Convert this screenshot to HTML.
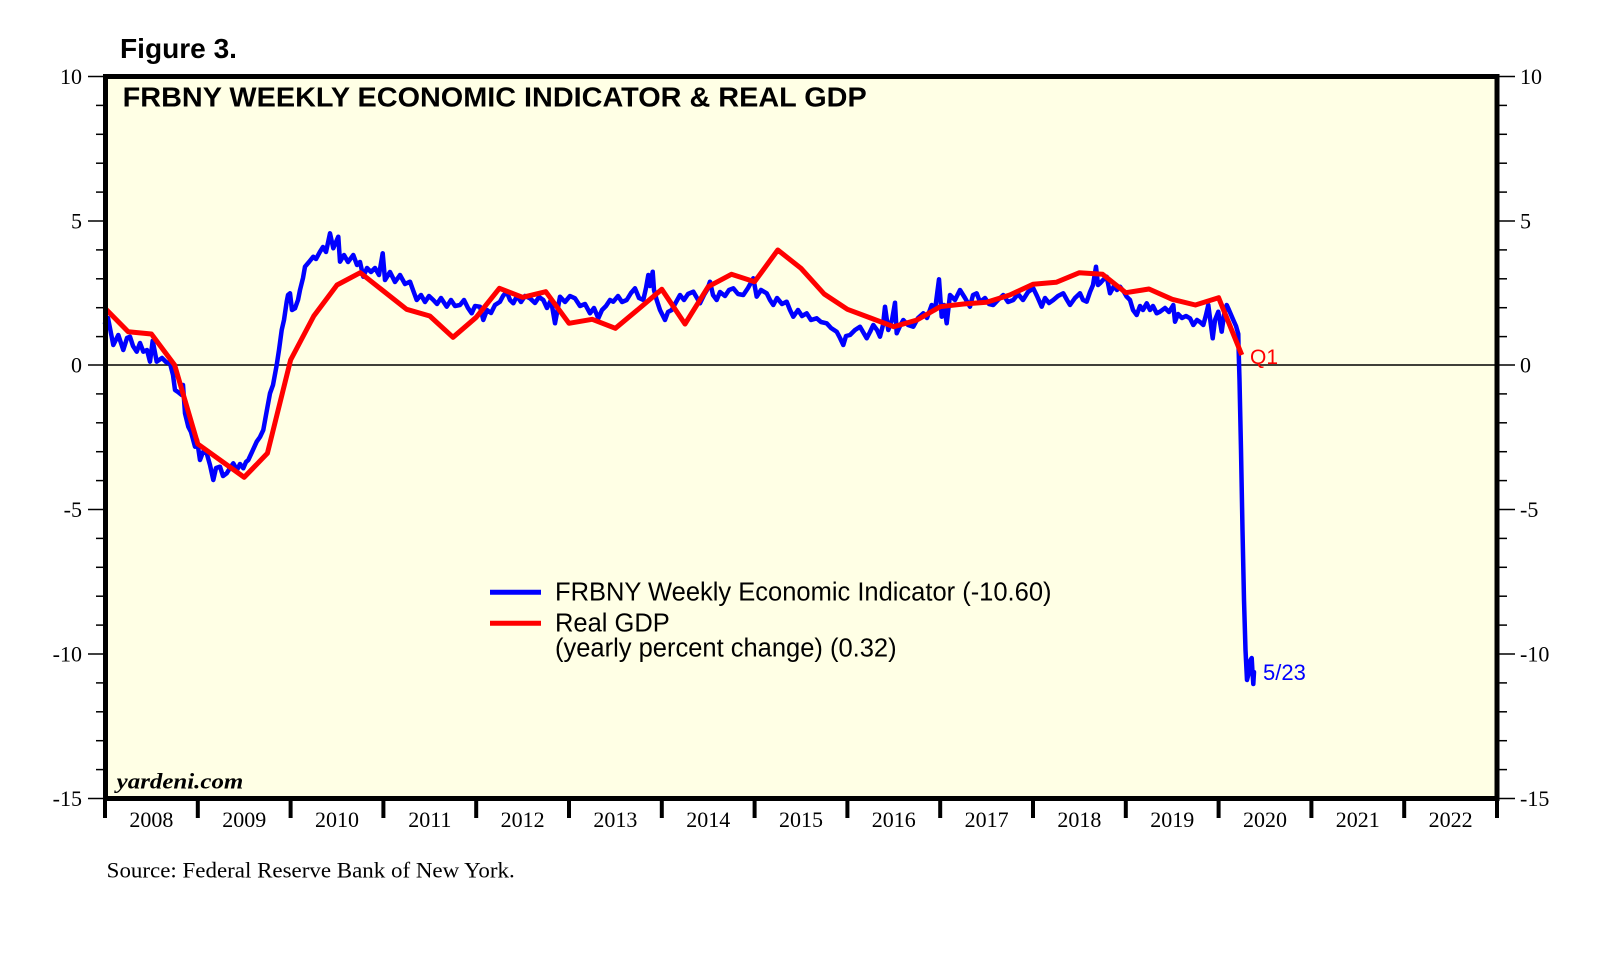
<!DOCTYPE html>
<html><head><meta charset="utf-8"><style>
html,body{margin:0;padding:0;background:#fff;}
svg{display:block;}
</style></head><body>
<svg width="1610" height="957" viewBox="0 0 1610 957" xmlns="http://www.w3.org/2000/svg">
<rect x="0" y="0" width="1610" height="957" fill="#fff"/>
<text x="120" y="58" font-family="Liberation Sans, Arial, sans-serif" font-weight="bold" font-size="28" fill="#000" textLength="117" lengthAdjust="spacingAndGlyphs">Figure 3.</text>
<rect x="105.5" y="76.5" width="1391.5" height="722" fill="#FFFFE5"/>
<line x1="106" y1="365" x2="1497" y2="365" stroke="#000" stroke-width="1.5"/>
<g stroke="#000" stroke-width="1.5">
<line x1="88" y1="76.5" x2="105" y2="76.5"/><line x1="96" y1="105.4" x2="105" y2="105.4"/><line x1="96" y1="134.3" x2="105" y2="134.3"/><line x1="96" y1="163.2" x2="105" y2="163.2"/><line x1="96" y1="192.1" x2="105" y2="192.1"/>
<line x1="88" y1="221" x2="105" y2="221"/><line x1="96" y1="249.9" x2="105" y2="249.9"/><line x1="96" y1="278.8" x2="105" y2="278.8"/><line x1="96" y1="307.7" x2="105" y2="307.7"/><line x1="96" y1="336.6" x2="105" y2="336.6"/>
<line x1="88" y1="365" x2="105" y2="365"/><line x1="96" y1="393.9" x2="105" y2="393.9"/><line x1="96" y1="422.8" x2="105" y2="422.8"/><line x1="96" y1="451.7" x2="105" y2="451.7"/><line x1="96" y1="480.6" x2="105" y2="480.6"/>
<line x1="88" y1="509.5" x2="105" y2="509.5"/><line x1="96" y1="538.4" x2="105" y2="538.4"/><line x1="96" y1="567.3" x2="105" y2="567.3"/><line x1="96" y1="596.2" x2="105" y2="596.2"/><line x1="96" y1="625.1" x2="105" y2="625.1"/>
<line x1="88" y1="654" x2="105" y2="654"/><line x1="96" y1="682.9" x2="105" y2="682.9"/><line x1="96" y1="711.8" x2="105" y2="711.8"/><line x1="96" y1="740.7" x2="105" y2="740.7"/><line x1="96" y1="769.6" x2="105" y2="769.6"/>
<line x1="88" y1="798.5" x2="105" y2="798.5"/>
<line x1="1497" y1="76.5" x2="1515" y2="76.5"/><line x1="1497" y1="105.4" x2="1507" y2="105.4"/><line x1="1497" y1="134.3" x2="1507" y2="134.3"/><line x1="1497" y1="163.2" x2="1507" y2="163.2"/><line x1="1497" y1="192.1" x2="1507" y2="192.1"/>
<line x1="1497" y1="221" x2="1515" y2="221"/><line x1="1497" y1="249.9" x2="1507" y2="249.9"/><line x1="1497" y1="278.8" x2="1507" y2="278.8"/><line x1="1497" y1="307.7" x2="1507" y2="307.7"/><line x1="1497" y1="336.6" x2="1507" y2="336.6"/>
<line x1="1497" y1="365" x2="1515" y2="365"/><line x1="1497" y1="393.9" x2="1507" y2="393.9"/><line x1="1497" y1="422.8" x2="1507" y2="422.8"/><line x1="1497" y1="451.7" x2="1507" y2="451.7"/><line x1="1497" y1="480.6" x2="1507" y2="480.6"/>
<line x1="1497" y1="509.5" x2="1515" y2="509.5"/><line x1="1497" y1="538.4" x2="1507" y2="538.4"/><line x1="1497" y1="567.3" x2="1507" y2="567.3"/><line x1="1497" y1="596.2" x2="1507" y2="596.2"/><line x1="1497" y1="625.1" x2="1507" y2="625.1"/>
<line x1="1497" y1="654" x2="1515" y2="654"/><line x1="1497" y1="682.9" x2="1507" y2="682.9"/><line x1="1497" y1="711.8" x2="1507" y2="711.8"/><line x1="1497" y1="740.7" x2="1507" y2="740.7"/><line x1="1497" y1="769.6" x2="1507" y2="769.6"/>
<line x1="1497" y1="798.5" x2="1515" y2="798.5"/>
</g>
<g font-family="Liberation Serif, 'Times New Roman', serif" font-size="22" fill="#000" text-anchor="end">
<text x="82" y="84">10</text><text x="82" y="228.5">5</text><text x="82" y="372.5">0</text><text x="82" y="517">-5</text><text x="82" y="661.5">-10</text><text x="82" y="806">-15</text>
</g>
<g font-family="Liberation Serif, 'Times New Roman', serif" font-size="22" fill="#000" text-anchor="start">
<text x="1520" y="84">10</text><text x="1520" y="228.5">5</text><text x="1520" y="372.5">0</text><text x="1520" y="517">-5</text><text x="1520" y="661.5">-10</text><text x="1520" y="806">-15</text>
</g>
<g stroke="#000" stroke-width="4">
<line x1="105" y1="798" x2="105" y2="818"/><line x1="197.8" y1="798" x2="197.8" y2="818"/><line x1="290.6" y1="798" x2="290.6" y2="818"/><line x1="383.4" y1="798" x2="383.4" y2="818"/><line x1="476.2" y1="798" x2="476.2" y2="818"/><line x1="569" y1="798" x2="569" y2="818"/><line x1="661.8" y1="798" x2="661.8" y2="818"/><line x1="754.6" y1="798" x2="754.6" y2="818"/><line x1="847.4" y1="798" x2="847.4" y2="818"/><line x1="940.2" y1="798" x2="940.2" y2="818"/><line x1="1033" y1="798" x2="1033" y2="818"/><line x1="1125.8" y1="798" x2="1125.8" y2="818"/><line x1="1218.6" y1="798" x2="1218.6" y2="818"/><line x1="1311.4" y1="798" x2="1311.4" y2="818"/><line x1="1404.2" y1="798" x2="1404.2" y2="818"/><line x1="1497" y1="798" x2="1497" y2="818"/>
</g>
<g font-family="Liberation Serif, 'Times New Roman', serif" font-size="22" fill="#000" text-anchor="middle">
<text x="151.4" y="827">2008</text><text x="244.2" y="827">2009</text><text x="337" y="827">2010</text><text x="429.8" y="827">2011</text><text x="522.6" y="827">2012</text><text x="615.4" y="827">2013</text><text x="708.2" y="827">2014</text><text x="801" y="827">2015</text><text x="893.8" y="827">2016</text><text x="986.6" y="827">2017</text><text x="1079.4" y="827">2018</text><text x="1172.2" y="827">2019</text><text x="1265" y="827">2020</text><text x="1357.8" y="827">2021</text><text x="1450.6" y="827">2022</text>
</g>
<polyline fill="none" stroke="#0000FF" stroke-width="4.5" stroke-linejoin="round" stroke-linecap="round" points="105,323.3 108,318 113.3,345 118.3,335 123.3,350 127,338 130,336.7 133,346 136.7,351.7 140,343 143.3,351.7 147,350 150,361.7 152.7,340.7 156.7,361.7 162,358 166,362 170,363.3 173,375 175,390 178,392 181.7,395 183,385 185,413.3 188.3,426.7 191,432 195,446.7 197,440 200,460 203,452 206.7,453.3 210,465 213.3,480 216,468 220,466.7 223,476 226.7,473.3 230,468 233.3,463.3 237,470 240,464 243.3,468.3 246,462 248.3,460 252,452 256.7,441.7 260,437 263.3,430 266,415 270,393.3 273,385 276.7,365 279,350 281.7,330 284,320 286.7,301.7 288,295 290,293.3 292,310 295,308.3 298,300 300,290 303,278 305,266.7 309,262 313.3,256.7 316,259 320,251.7 323,247 326,252 330,233.3 333.3,248.3 336,242 338.3,236.7 340,261.7 344,255 348,262 353.3,255 357,265 360,262 363.3,276.7 367,268 371,272 375,268 379,275 382.7,253.3 385,280 390,272 395,282 400,275 405,284 410,281.7 413,290 416.7,300 421,295 425,302 429,296 433.3,300 437,304 441,298 446.7,306.7 451,300 455,306 460,305 464,300 468,308 471.7,313.3 475,306 480,306.7 483.3,320 487,310 491,313 495,305 500,301.7 503,296 506.7,291.7 510,300 513.3,303.3 517,296 521,302 525,296 530,298.3 535,303 539,297 543.3,300 547,308 551,300 555,323.3 560,296.7 565,302 570,296 575,298.3 580,306 585,304 590,313.3 594,308 598.3,318.3 602,310 606,306 610,300 613.3,301.7 618,296 622,302 626.7,300 631,293 635,288.3 639,298 643.3,300 646,288 648.3,275 650,286 652.7,271.7 654,290 656.7,300 660,310 665,320 668,312 671.7,310 675,304 680,295 684,300 688,294 693.3,291.7 697,298 700,303.3 704,295 707,290 710,281.7 713,295 716.7,300 720,292 725,296 729,290 733.3,288.3 738,294 743.3,295 748,288 753.3,278.3 756.7,296.7 761,290 766.7,293.3 770,300 773.3,305 777,298 782,304 786.7,301.7 790,310 793.3,316.7 798,310 802,316 806.7,313.3 811,320 816.7,318.3 821,322 826.7,323.3 831,328 836.7,331.7 840,338 843.3,345 846,336 850,335 855,330 860,326.7 866.7,338.3 870,332 873.3,325 877,330 880,336.7 883,325 885,306.7 888.3,330 892,320 895,302.7 896.7,333.3 900,326 903.3,320 908,325 913.3,326.7 918,318 923.3,313.3 927,318 931.7,305 935,310 939,279.3 941.7,316.7 944,305 946.7,323.3 950,295 955,300 960,290 965,298 970,306.7 973,295 976.7,293.3 980,302 985,298 989,304 993.3,305 998,300 1003.3,295 1008,302 1013.3,300 1018,294 1023,300 1028,292 1033.3,288.3 1037,296 1041.7,306.7 1045,298 1049,303 1053.3,300 1058,296 1063.3,293.3 1067,300 1070,305 1075,298 1080,293.3 1083,300 1086.7,301.7 1090,292 1093,285 1096,266.7 1098,285 1100,283.3 1103,280 1106.7,276.7 1110,293.3 1114,286 1117,290 1120,286.7 1124,292 1126.7,296.7 1130,300 1133,310 1136.7,315 1140,306 1143,310 1146.7,303.3 1150,310 1153,306 1156.7,313.3 1160,311.7 1165,308 1169,312 1173.3,305 1175,321.7 1178,314 1182,318 1186,316 1190,318.3 1193.3,325 1197,320 1200,322 1203.3,325 1206,315 1208.3,305 1210,318 1212.7,338.3 1215,320 1218.3,311.7 1220,322 1221.7,331.7 1224,315 1226.7,305 1229,310 1233.3,320 1236,326 1238.3,334 1238.5,345 1239.5,380 1241,450 1242.5,530 1244,600 1245.5,650 1247,680 1249,672 1250.5,660 1251.7,658 1252.5,672 1253.3,684 1254,672"/>
<polyline fill="none" stroke="#FF0000" stroke-width="5" stroke-linejoin="round" points="105,308.3 128.2,331.7 151.4,334 174.6,365 197.8,444 221,460.7 244.2,477.3 267.4,453.3 290.6,360 313.8,316 337,285 360.2,272.7 383.4,291 406.6,309.3 429.8,316 453,337.3 476.2,317.3 499.4,288.3 522.6,297.3 545.8,291.7 569,323.3 592.2,319.3 615.4,328.3 638.6,309 661.8,289.3 685,324 708.2,286.7 731.4,274.3 754.6,281.7 777.8,250 801,268.3 824.2,294 847.4,309.3 870.6,318 893.8,326.7 917,320 940.2,306.7 963.4,304 986.6,302.3 1009.8,295 1033,284.3 1056.2,282.3 1079.4,272.7 1102.6,274.3 1125.8,292.7 1149,289 1172.2,299.3 1195.4,305 1218.6,297.7 1241.8,355"/>
<text x="1250" y="364" font-family="Liberation Sans, Arial, sans-serif" font-size="21" fill="#FF0000">Q1</text>
<text x="1263" y="680" font-family="Liberation Sans, Arial, sans-serif" font-size="22" fill="#0000FF">5/23</text>
<line x1="490" y1="592.3" x2="541" y2="592.3" stroke="#0000FF" stroke-width="5"/>
<line x1="490" y1="623.3" x2="541" y2="623.3" stroke="#FF0000" stroke-width="5"/>
<g font-family="Liberation Sans, Arial, sans-serif" font-size="25.5" fill="#000">
<text x="555" y="600.7">FRBNY Weekly Economic Indicator (-10.60)</text>
<text x="555" y="631.7">Real GDP</text>
<text x="555" y="656.7">(yearly percent change) (0.32)</text>
</g>
<text x="116.7" y="788.3" font-family="Liberation Serif, 'Times New Roman', serif" font-style="italic" font-weight="bold" font-size="22" fill="#000" textLength="126.6" lengthAdjust="spacingAndGlyphs">yardeni.com</text>
<text x="122.7" y="106.7" font-family="Liberation Sans, Arial, sans-serif" font-weight="bold" font-size="28" fill="#000" textLength="744" lengthAdjust="spacingAndGlyphs">FRBNY WEEKLY ECONOMIC INDICATOR &amp; REAL GDP</text>
<rect x="105.5" y="76.5" width="1391.5" height="722" fill="none" stroke="#000" stroke-width="5"/>
<text x="106.7" y="877.3" font-family="Liberation Serif, 'Times New Roman', serif" font-size="22" fill="#000" textLength="408" lengthAdjust="spacingAndGlyphs">Source: Federal Reserve Bank of New York.</text>
</svg>
</body></html>
